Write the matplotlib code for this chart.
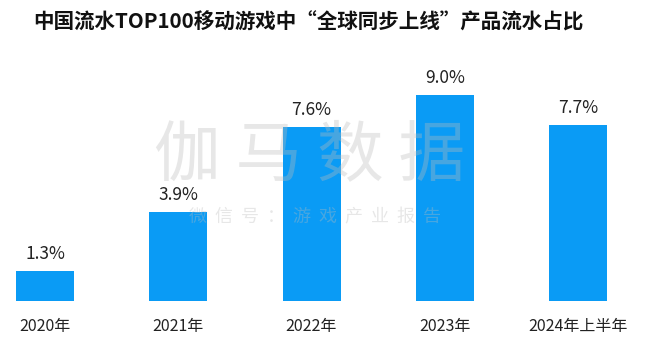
import matplotlib
matplotlib.use("Agg")
import matplotlib.pyplot as plt

plt.rcParams['font.family'] = ['Noto Sans CJK SC', 'DejaVu Sans']

years = ["2020年", "2021年", "2022年", "2023年", "2024年上半年"]
share = [1.3, 3.9, 7.6, 9.0, 7.7]
labels = ["1.3%", "3.9%", "7.6%", "9.0%", "7.7%"]

fig = plt.figure(figsize=(6.5, 3.45), dpi=100)
ax = fig.add_axes([0, 0.1275, 1, 0.7425])

x = list(range(len(years)))
ax.bar(x, share, width=0.435, color="#0A9BF5", zorder=2)
for i, v in enumerate(share):
    ax.text(i, v + 0.35, labels[i], ha="center", va="bottom", fontsize=12.5, color="#222222")

ax.set_xlim(-0.338, 4.54)
ax.set_ylim(0, 11.18)
ax.axis("off")

for i, yr in enumerate(years):
    fig.text((45 + 133.25 * i) / 650, 1 - 327 / 345, yr, ha="center", va="center",
             fontsize=11.5, color="#222222")

fig.text(33 / 650, 1 - 22 / 345, "中国流水TOP100移动游戏中“全球同步上线”产品流水占比",
         ha="left", va="center", fontsize=14.8, fontweight="bold", color="#111111")

# watermark
fig.text(310 / 650, 1 - 156 / 345, "伽 马 数 据", ha="center", va="center",
         fontsize=48, fontweight="light", color="#BBBBBB", alpha=0.35, zorder=5)
fig.text(315 / 650, 1 - 217 / 345, "微  信  号  ：  游  戏  产  业  报  告", ha="center", va="center",
         fontsize=13, fontweight="light", color="#BBBBBB", alpha=0.35, zorder=5)

fig.savefig("out.png", dpi=100)
